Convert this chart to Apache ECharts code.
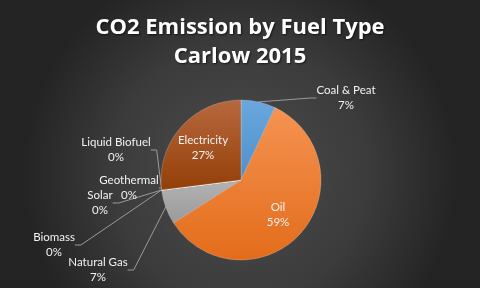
<!DOCTYPE html>
<html>
<head>
<meta charset="utf-8">
<script src="https://cdn.jsdelivr.net/npm/echarts@6/dist/echarts.min.js"></script>
<style>html,body{margin:0;padding:0;background:#2b2b2b}#c{width:480px;height:288px}</style>
</head>
<body>
<div id="c"></div>
<script>
const categories = ['Coal & Peat', 'Oil', 'Natural Gas', 'Biomass', 'Solar', 'Geothermal', 'Liquid Biofuel', 'Electricity'];
const shares = [7, 59, 7, 0, 0, 0, 0, 27];
const titleLines = ['CO2 Emission by Fuel Type', 'Carlow 2015'];

const sliceColors = [
  ['#6ba7de', '#4f8fcb'],
  ['#f59352', '#e36c1a'],
  ['#b3b3b3', '#9a9a9a'],
  ['#5b9bd5', '#5b9bd5'],
  ['#ed7d31', '#ed7d31'],
  ['#a5a5a5', '#a5a5a5'],
  ['#ffc000', '#ffc000'],
  ['#b8683f', '#933f07']
];
const insideSet = {1: true, 7: true};
// label placement (style/layout, not data)
const labelPos = {
  0: [346, 98], 1: [278, 215], 2: [98, 270], 3: [54, 245],
  4: [100, 203], 5: [129, 188], 6: [116, 150], 7: [203, 148]
};

const chart = echarts.init(document.getElementById('c'), null, {renderer: 'canvas'});
const data = categories.map((name, i) => ({
  name: name,
  value: shares[i],
  itemStyle: {
    color: {type: 'linear', x: 0, y: 0, x2: 0, y2: 1,
      colorStops: [{offset: 0, color: sliceColors[i][0]}, {offset: 1, color: sliceColors[i][1]}]}
  },
  labelLine: {show: !insideSet[i]}
}));

chart.setOption({
  animation: false,
  backgroundColor: {
    type: 'radial', x: 0.5, y: 0.6, r: 0.75,
    colorStops: [{offset: 0, color: '#4d4d4d'}, {offset: 0.6, color: '#3b3b3b'}, {offset: 1, color: '#242424'}]
  },
  title: {
    text: titleLines.join('\n'),
    left: 'center',
    top: 8,
    textStyle: {
      color: '#ffffff', fontFamily: 'Open Sans', fontWeight: 'bold', fontSize: 22, lineHeight: 29,
      textShadowColor: 'rgba(0,0,0,0.6)', textShadowBlur: 2, textShadowOffsetX: 1, textShadowOffsetY: 1
    }
  },
  series: [{
    type: 'pie',
    center: [241, 180],
    radius: 80,
    startAngle: 90,
    clockwise: true,
    minAngle: 0,
    avoidLabelOverlap: false,
    stillShowZeroSum: true,
    itemStyle: {borderColor: 'rgba(255,255,255,0.35)', borderWidth: 0.6},
    label: {
      show: true,
      color: '#f2f2f2',
      fontFamily: 'Lato',
      fontSize: 11.5,
      lineHeight: 15,
      align: 'center',
      formatter: p => p.name + '\n' + p.value + '%'
    },
    labelLine: {show: true, length: 8, length2: 6, lineStyle: {color: '#9a9a9a', width: 1}},
    labelLayout: function (params) {
      const p = labelPos[params.dataIndex];
      return {x: p[0], y: p[1], align: 'center', verticalAlign: 'middle'};
    },
    emphasis: {disabled: true},
    data: data
  }]
});
</script>
</body>
</html>
